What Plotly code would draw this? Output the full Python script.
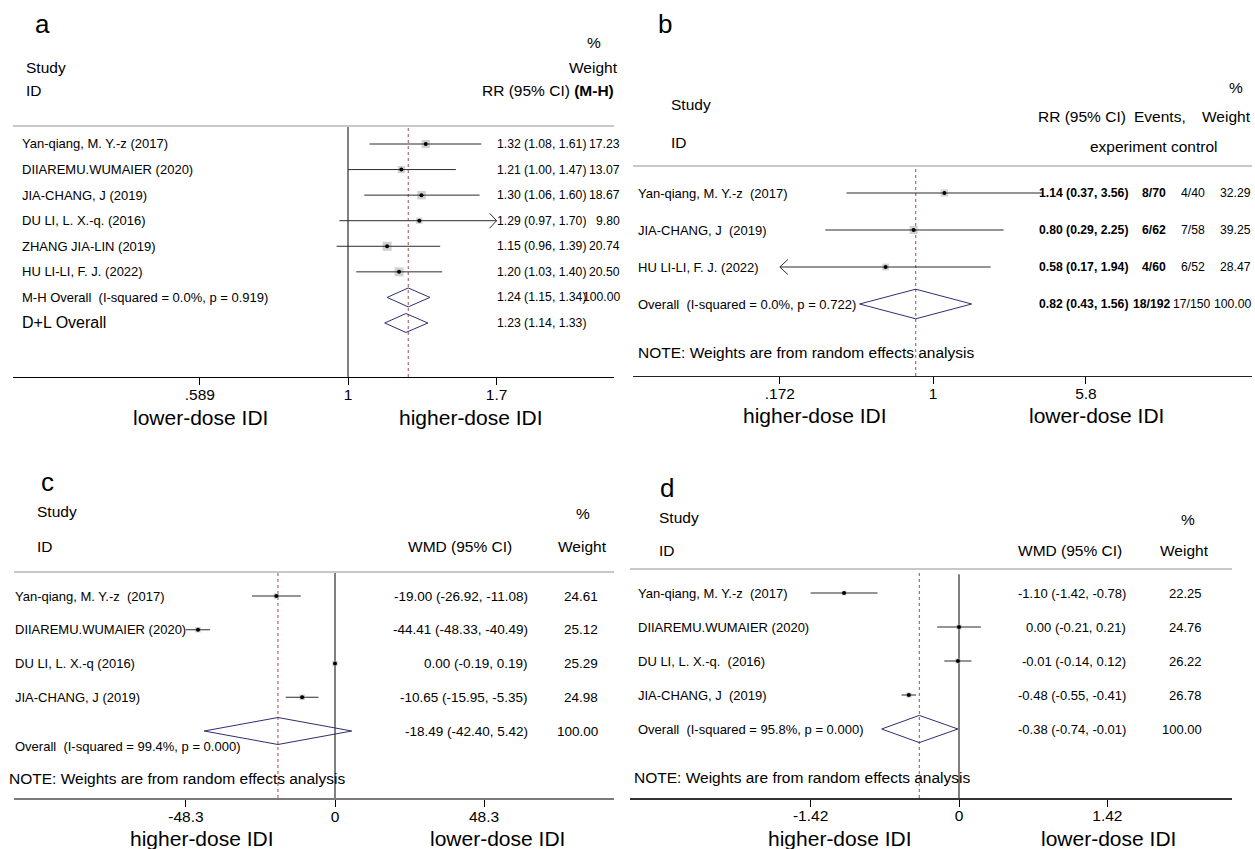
import math
import plotly.graph_objects as go

W, H = 1255, 849
FONT = "Liberation Sans, Arial, sans-serif"
NB = "\u00a0"

# ------------------------- data -------------------------
# Panel a (RR, M-H)
a_studies = ["Yan-qiang, M. Y.-z (2017)", "DIIAREMU.WUMAIER (2020)", "JIA-CHANG, J (2019)",
             "DU LI, L. X.-q. (2016)", "ZHANG JIA-LIN (2019)", "HU LI-LI, F. J. (2022)"]
a_est = [1.32, 1.21, 1.30, 1.29, 1.15, 1.20]
a_lo = [1.08, 1.00, 1.06, 0.97, 0.96, 1.03]
a_hi = [1.61, 1.47, 1.60, 1.70, 1.39, 1.40]
a_w = [17.23, 13.07, 18.67, 9.80, 20.74, 20.50]
a_mh = [1.24, 1.15, 1.34]
a_mh_w = 100.00
a_dl = [1.23, 1.14, 1.33]
a_ticks = [0.589, 1, 1.7]
a_ticktext = [".589", "1", "1.7"]

# Panel b (RR, random effects)
b_studies = ["Yan-qiang, M. Y.-z" + NB + " (2017)", "JIA-CHANG, J" + NB + " (2019)", "HU LI-LI, F. J. (2022)"]
b_est = [1.14, 0.80, 0.58]
b_lo = [0.37, 0.29, 0.17]
b_hi = [3.56, 2.25, 1.94]
b_exp = ["8/70", "6/62", "4/60"]
b_ctl = ["4/40", "7/58", "6/52"]
b_w = [32.29, 39.25, 28.47]
b_overall = [0.82, 0.43, 1.56]
b_overall_exp = "18/192"
b_overall_ctl = "17/150"
b_overall_w = 100.00
b_ticks = [0.172, 1, 5.8]
b_ticktext = [".172", "1", "5.8"]

# Panel c (WMD)
c_studies = ["Yan-qiang, M. Y.-z" + NB + " (2017)", "DIIAREMU.WUMAIER (2020)",
             "DU LI, L. X.-q (2016)", "JIA-CHANG, J (2019)"]
c_est = [-19.00, -44.41, 0.00, -10.65]
c_lo = [-26.92, -48.33, -0.19, -15.95]
c_hi = [-11.08, -40.49, 0.19, -5.35]
c_w = [24.61, 25.12, 25.29, 24.98]
c_overall = [-18.49, -42.40, 5.42]
c_overall_w = 100.00
c_ticks = [-48.3, 0, 48.3]
c_ticktext = ["-48.3", "0", "48.3"]

# Panel d (WMD)
d_studies = ["Yan-qiang, M. Y.-z" + NB + " (2017)", "DIIAREMU.WUMAIER (2020)",
             "DU LI, L. X.-q." + NB + " (2016)", "JIA-CHANG, J" + NB + " (2019)"]
d_est = [-1.10, 0.00, -0.01, -0.48]
d_lo = [-1.42, -0.21, -0.14, -0.55]
d_hi = [-0.78, 0.21, 0.12, -0.41]
d_w = [22.25, 24.76, 26.22, 26.78]
d_overall = [-0.38, -0.74, -0.01]
d_overall_w = 100.00
d_ticks = [-1.42, 0, 1.42]
d_ticktext = ["-1.42", "0", "1.42"]

# ------------------------- layout geometry (pixels) -------------------------
P = {
    "a": dict(xa="x", ya="y", L=13, R=614, T=126, B=377, row0=144, step=25.57,
              log=True, N=348, k=280.0, null=1.0),
    "b": dict(xa="x2", ya="y2", L=633, R=1252, T=166, B=376, row0=193, step=37.0,
              log=True, N=933, k=87.0, null=1.0),
    "c": dict(xa="x3", ya="y3", L=14, R=614, T=572, B=798, row0=596, step=33.75,
              log=False, N=335, k=3.085, null=0.0),
    "d": dict(xa="x4", ya="y4", L=630, R=1232, T=569, B=798, row0=593, step=34.0,
              log=False, N=959, k=104.5, null=0.0),
}

CI_COL = "#2b2b2b"
BOX_COL = "#bdbdbd"
DIA_COL = "#2e2e72"
RED = "#a8474c"


def px(x):
    return x / W


def py(y):
    return 1 - y / H


def yrange(p):
    return [(p["B"] - p["row0"]) / p["step"], (p["T"] - p["row0"]) / p["step"]]


def shift(p, x, dpx):
    # move a data value by dpx pixels on the panel's x scale
    if p["log"]:
        return x * math.exp(dpx / p["k"])
    return x + dpx / p["k"]


fig = go.Figure()


def line(p, xs, ys, color=CI_COL, width=1.0, dash=None):
    fig.add_trace(go.Scatter(x=xs, y=ys, mode="lines", xaxis=p["xa"], yaxis=p["ya"],
                             line=dict(color=color, width=width, dash=dash),
                             hoverinfo="skip", showlegend=False))


def forest(p, est, lo, hi, w, box_scale, tmin, tmax):
    rows = list(range(len(est)))
    fig.add_trace(go.Scatter(x=est, y=rows, mode="markers", xaxis=p["xa"], yaxis=p["ya"],
                             marker=dict(symbol="square", color=BOX_COL,
                                         size=[box_scale * math.sqrt(v) for v in w],
                                         line=dict(width=0)),
                             hoverinfo="skip", showlegend=False))
    for i in rows:
        l0 = max(lo[i], tmin)
        h0 = min(hi[i], tmax)
        line(p, [l0, h0], [i, i])
        dy = 7.5 / p["step"]
        if hi[i] >= tmax:
            line(p, [shift(p, tmax, -7), tmax, shift(p, tmax, -7)], [i - dy, i, i + dy])
        if lo[i] < tmin:
            line(p, [shift(p, tmin, 8), tmin, shift(p, tmin, 8)], [i - dy, i, i + dy])
    fig.add_trace(go.Scatter(x=est, y=rows, mode="markers", xaxis=p["xa"], yaxis=p["ya"],
                             marker=dict(symbol="circle", color="black", size=4),
                             hoverinfo="skip", showlegend=False))


def diamond(p, ov, row, half):
    e, l, h = ov
    line(p, [l, e, h, e, l], [row, row - half, row, row + half, row], color=DIA_COL, width=1)


def vline(p, x, color, width, dash=None, top=None):
    yr = yrange(p)
    line(p, [x, x], [yr[0], yr[1] if top is None else top], color=color, width=width, dash=dash)


ann = []


def text(x, y, s, size=13, xanchor="left", yref="paper", color="black"):
    ann.append(dict(x=x, y=y, xref="paper", yref=yref, text=s, showarrow=False,
                    xanchor=xanchor, yanchor="middle",
                    font=dict(family=FONT, size=size, color=color)))


def ci(e, l, h):
    return f"{e:.2f} ({l:.2f}, {h:.2f})"


# ------------------------- panel a -------------------------
pa = P["a"]
vline(pa, pa["null"], "black", 1)
vline(pa, a_mh[0], RED, 1, dash="3px,3px")
forest(pa, a_est, a_lo, a_hi, a_w, 1.98, a_ticks[0], a_ticks[-1])
diamond(pa, a_mh, 6, 0.37)
diamond(pa, a_dl, 7, 0.37)
for i, s in enumerate(a_studies):
    text(px(20), i, s, 13, yref=pa["ya"])
    text(px(495), i, ci(a_est[i], a_lo[i], a_hi[i]), 12.2, yref=pa["ya"])
    text(px(622), i, f"{a_w[i]:.2f}", 12.2, xanchor="right", yref=pa["ya"])
text(px(20), 6, "M-H Overall" + NB + " (I-squared = 0.0%, p = 0.919)", 13, yref=pa["ya"])
text(px(495), 6, ci(*a_mh), 12.2, yref=pa["ya"])
text(px(622), 6, f"{a_mh_w:.2f}", 12.2, xanchor="right", yref=pa["ya"])
text(px(20), 7, "D+L Overall", 16, yref=pa["ya"])
text(px(495), 7, ci(*a_dl), 12.2, yref=pa["ya"])
text(px(42), py(24), "a", 26, xanchor="center")
text(px(594), py(42), "%", 15.5, xanchor="center")
text(px(24), py(67), "Study", 15.5)
text(px(620), py(67), "Weight", 15.5, xanchor="right")
text(px(24), py(91), "ID", 15.5)
text(px(616), py(91), "RR (95% CI) <b>(M-H)</b>", 15.5, xanchor="right")
text(px(200), py(418), "lower-dose IDI", 21, xanchor="center")
text(px(471), py(418), "higher-dose IDI", 21, xanchor="center")

# ------------------------- panel b -------------------------
pb = P["b"]
vline(pb, b_overall[0], RED, 1, dash="3px,3px")
forest(pb, b_est, b_lo, b_hi, b_w, 1.28, b_ticks[0], b_ticks[-1])
diamond(pb, b_overall, 3, 0.4)
for i, s in enumerate(b_studies):
    text(px(636), i, s, 13, yref=pb["ya"])
    text(px(1037), i, f"<b>{ci(b_est[i], b_lo[i], b_hi[i])}</b>", 12.2, yref=pb["ya"])
    text(px(1154), i, f"<b>{b_exp[i]}</b>", 12.2, xanchor="center", yref=pb["ya"])
    text(px(1193), i, b_ctl[i], 12.2, xanchor="center", yref=pb["ya"])
    text(px(1253), i, f"{b_w[i]:.2f}", 12.2, xanchor="right", yref=pb["ya"])
text(px(636), 3, "Overall" + NB + " (I-squared = 0.0%, p = 0.722)", 13, yref=pb["ya"])
text(px(1037), 3, f"<b>{ci(*b_overall)}</b>", 12.2, yref=pb["ya"])
text(px(1151), 3, f"<b>{b_overall_exp}</b>", 12.2, xanchor="center", yref=pb["ya"])
text(px(1191), 3, b_overall_ctl, 12.2, xanchor="center", yref=pb["ya"])
text(px(1253), 3, f"{b_overall_w:.2f}", 12.2, xanchor="right", yref=pb["ya"])
text(px(665), py(24), "b", 26, xanchor="center")
text(px(1236), py(88), "%", 15.5, xanchor="center")
text(px(669), py(105), "Study", 15.5)
text(px(1082), py(117), "RR (95% CI)", 15.5, xanchor="center")
text(px(1160), py(117), "Events,", 15.5, xanchor="center")
text(px(1253), py(117), "Weight", 15.5, xanchor="right")
text(px(669), py(143), "ID", 15.5)
text(px(1088), py(146), "experiment control", 15.5)
text(px(636), py(352), "NOTE: Weights are from random effects analysis", 15.5)
text(px(815), py(416), "higher-dose IDI", 21, xanchor="center")
text(px(1096), py(416), "lower-dose IDI", 21, xanchor="center")

# ------------------------- panel c -------------------------
pc = P["c"]
vline(pc, pc["null"], "black", 1)
vline(pc, c_overall[0], RED, 1, dash="3px,3px")
forest(pc, c_est, c_lo, c_hi, c_w, 1.1, -1e9, 1e9)
diamond(pc, c_overall, 4, 0.4)
for i, s in enumerate(c_studies):
    text(px(13), i, s, 13, yref=pc["ya"])
    text(px(530), i, ci(c_est[i], c_lo[i], c_hi[i]), 13.5, xanchor="right", yref=pc["ya"])
    text(px(600), i, f"{c_w[i]:.2f}", 13.5, xanchor="right", yref=pc["ya"])
text(px(13), 4.47, "Overall" + NB + " (I-squared = 99.4%, p = 0.000)", 13, yref=pc["ya"])
text(px(530), 4, ci(*c_overall), 13.5, xanchor="right", yref=pc["ya"])
text(px(600), 4, f"{c_overall_w:.2f}", 13.5, xanchor="right", yref=pc["ya"])
text(px(47), py(482), "c", 26, xanchor="center")
text(px(35), py(512), "Study", 15.5)
text(px(583), py(513), "%", 15.5, xanchor="center")
text(px(35), py(546), "ID", 15.5)
text(px(460), py(546), "WMD (95% CI)", 15.5, xanchor="center")
text(px(582), py(546), "Weight", 15.5, xanchor="center")
text(px(7), py(778), "NOTE: Weights are from random effects analysis", 15.5)
text(px(202), py(838), "higher-dose IDI", 21, xanchor="center")
text(px(497), py(838), "lower-dose IDI", 21, xanchor="center")

# ------------------------- panel d -------------------------
pd_ = P["d"]
vline(pd_, pd_["null"], "black", 1, top=-0.55)
vline(pd_, d_overall[0], RED, 1, dash="3px,3px", top=-0.62)
forest(pd_, d_est, d_lo, d_hi, d_w, 1.0, -1e9, 1e9)
diamond(pd_, d_overall, 4, 0.4)
for i, s in enumerate(d_studies):
    text(px(636), i, s, 13, yref=pd_["ya"])
    text(px(1128), i, ci(d_est[i], d_lo[i], d_hi[i]), 13, xanchor="right", yref=pd_["ya"])
    text(px(1204), i, f"{d_w[i]:.2f}", 13, xanchor="right", yref=pd_["ya"])
text(px(636), 4, "Overall" + NB + " (I-squared = 95.8%, p = 0.000)", 13, yref=pd_["ya"])
text(px(1128), 4, ci(*d_overall), 13, xanchor="right", yref=pd_["ya"])
text(px(1204), 4, f"{d_overall_w:.2f}", 13, xanchor="right", yref=pd_["ya"])
text(px(667), py(488), "d", 26, xanchor="center")
text(px(657), py(517), "Study", 15.5)
text(px(1188), py(519), "%", 15.5, xanchor="center")
text(px(657), py(550), "ID", 15.5)
text(px(1070), py(550), "WMD (95% CI)", 15.5, xanchor="center")
text(px(1184), py(550), "Weight", 15.5, xanchor="center")
text(px(632), py(777), "NOTE: Weights are from random effects analysis", 15.5)
text(px(840), py(838), "higher-dose IDI", 21, xanchor="center")
text(px(1108), py(838), "lower-dose IDI", 21, xanchor="center")

# ------------------------- axes -------------------------
layout = dict(width=W, height=H, margin=dict(l=0, r=0, t=0, b=0),
              paper_bgcolor="white", plot_bgcolor="white", showlegend=False,
              annotations=ann, shapes=[])

axis_style = {"a": ("black", 1.2), "b": ("#222222", 1.2), "c": ("#7a7a7a", 2.2), "d": ("#333333", 1.5)}
ticks = {"a": (a_ticks, a_ticktext), "b": (b_ticks, b_ticktext),
         "c": (c_ticks, c_ticktext), "d": (d_ticks, d_ticktext)}

for key, p in P.items():
    xn = "xaxis" + p["xa"][1:]
    yn = "yaxis" + p["ya"][1:]
    if p["log"]:
        lo_r = math.log10(p["null"]) + (p["L"] - p["N"]) / p["k"] / math.log(10)
        hi_r = math.log10(p["null"]) + (p["R"] - p["N"]) / p["k"] / math.log(10)
    else:
        lo_r = p["null"] + (p["L"] - p["N"]) / p["k"]
        hi_r = p["null"] + (p["R"] - p["N"]) / p["k"]
    col, lw = axis_style[key]
    tv, tt = ticks[key]
    layout[xn] = dict(domain=[px(p["L"]), px(p["R"])], type="log" if p["log"] else "linear",
                      range=[lo_r, hi_r], anchor=p["ya"], showgrid=False, zeroline=False,
                      showline=True, linecolor=col, linewidth=lw,
                      tickmode="array", tickvals=tv, ticktext=tt,
                      ticks="outside", ticklen=7, tickwidth=1, tickcolor="black",
                      ticklabelstandoff=-4,
                      tickfont=dict(family=FONT, size=15.5, color="black"), fixedrange=True)
    layout[yn] = dict(domain=[py(p["B"]), py(p["T"])], range=yrange(p), anchor=p["xa"],
                      visible=False, showgrid=False, zeroline=False, fixedrange=True)
    layout["shapes"].append(dict(type="line", xref=p["xa"] + " domain", yref=p["ya"] + " domain",
                                 x0=0, x1=1, y0=1, y1=1,
                                 line=dict(color="#c8c8c8", width=2)))

fig.update_layout(**layout)
fig.write_html("out.html")
